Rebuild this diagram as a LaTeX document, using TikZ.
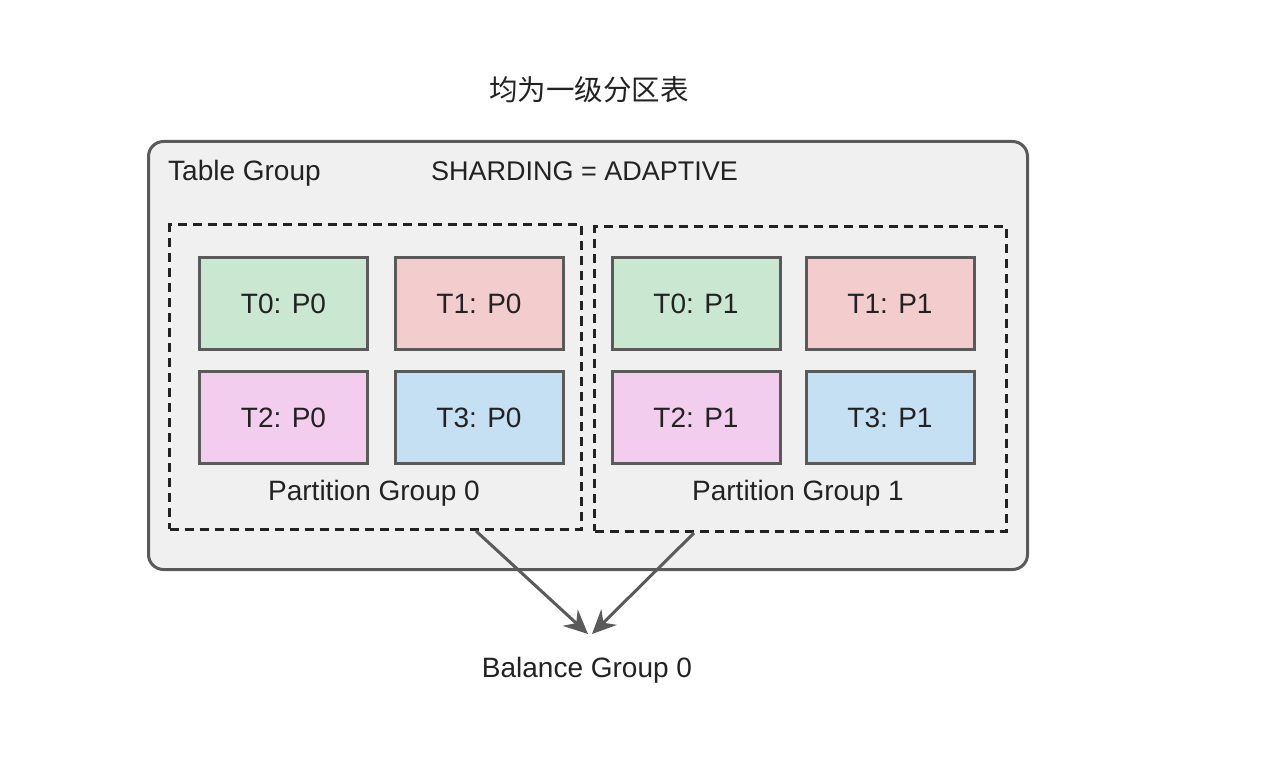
\documentclass[tikz,border=0pt]{standalone}
\usepackage{fontspec}
\setmainfont{Liberation Sans}
\newfontfamily\cjk{Noto Sans CJK SC}
\usetikzlibrary{arrows.meta}
\definecolor{txt}{HTML}{222222}
\definecolor{edge}{HTML}{5A5A5A}
\definecolor{bg}{HTML}{EFF0EF}
\definecolor{cg}{HTML}{C9E7D1}
\definecolor{cr}{HTML}{F3CDCD}
\definecolor{cm}{HTML}{F3CDEE}
\definecolor{cb}{HTML}{C6E0F3}
\tikzset{
  lbl/.style={text=txt, font=\fontsize{28}{32}\selectfont, inner sep=0pt},
  cell/.style={draw=edge, line width=3pt, minimum width=168pt, minimum height=92pt, inner sep=0pt, text=txt, font=\fontsize{28}{32}\selectfont},
  pgbox/.style={draw=txt, line width=3pt, dash pattern=on 9pt off 6pt, inner sep=0pt},
  arr/.style={draw=edge, line width=3pt, -{Stealth[length=24pt,width=22pt,inset=8pt]}}
}
\begin{document}
\begin{tikzpicture}[x=1pt,y=-1pt]
\useasboundingbox (0,0) rectangle (1262,770);
\node[text=txt, font=\cjk\fontsize{28.5}{32}\selectfont, inner sep=0pt] (title) at (589,90) {均为一级分区表};
\node[draw=edge, fill=bg, line width=3pt, rounded corners=15pt, minimum width=879pt, minimum height=428pt, inner sep=0pt] (tg) at (588,355.5) {};
\node[lbl, anchor=west] (tgl) at (168,173) {Table Group};
\node[lbl, font=\fontsize{27}{31}\selectfont] (sh) at (584.5,171) {SHARDING = ADAPTIVE};
\node[pgbox, minimum width=411.5pt, minimum height=304pt] (pg0) at (375.25,377) {};
\node[pgbox, minimum width=412pt, minimum height=304pt] (pg1) at (800.5,379) {};
\node[cell, fill=cg] (a00) at (283.5,303.5) {T0: P0};
\node[cell, fill=cr] (a01) at (479,303.5) {T1: P0};
\node[cell, fill=cm] (a10) at (283.5,417.5) {T2: P0};
\node[cell, fill=cb] (a11) at (479,417.5) {T3: P0};
\node[cell, fill=cg] (b00) at (696,303.5) {T0: P1};
\node[cell, fill=cr] (b01) at (890,303.5) {T1: P1};
\node[cell, fill=cm] (b10) at (696,417.5) {T2: P1};
\node[cell, fill=cb] (b11) at (890,417.5) {T3: P1};
\node[lbl] (pg0l) at (374,493) {Partition Group 0};
\node[lbl] (pg1l) at (798,493) {Partition Group 1};
\node[lbl] (bal) at (587,670) {Balance Group 0};
\coordinate (s0) at (476,531);
\coordinate (s1) at (694,533);
\coordinate (t0) at (588,634);
\coordinate (t1) at (592,634);
\draw[arr] (s0) -- (t0);
\draw[arr] (s1) -- (t1);
\end{tikzpicture}
\end{document}
